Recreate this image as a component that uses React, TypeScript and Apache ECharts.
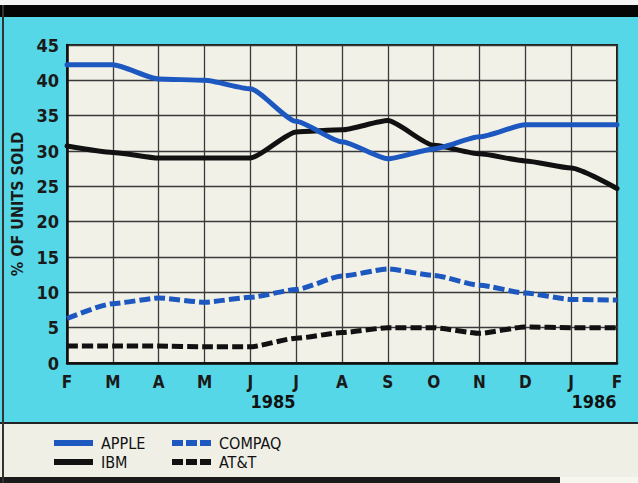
import React, { useEffect, useRef } from "react";
import * as echarts from "echarts";

const months = ["F", "M", "A", "M", "J", "J", "A", "S", "O", "N", "D", "J", "F"];
const apple = [42.2, 42.2, 40.2, 40, 38.8, 34.2, 31.3, 28.9, 30.3, 32, 33.7, 33.7, 33.7];
const ibm = [30.7, 29.8, 29, 29, 29, 32.7, 33, 34.3, 30.8, 29.6, 28.6, 27.6, 24.7];
const compaq = [6.3, 8.4, 9.2, 8.6, 9.3, 10.4, 12.3, 13.3, 12.4, 11, 9.9, 9, 8.9];
const att = [2.4, 2.4, 2.4, 2.3, 2.3, 3.5, 4.3, 5, 5, 4.2, 5.1, 5, 5];
const yearLabels = ["1985", "1986"];
const legendNames = ["APPLE", "IBM", "COMPAQ", "AT&T"];

const BLUE = "#1c58bf";
const BLACK = "#111111";
const FONT = "'Liberation Sans Narrow', 'DejaVu Sans Condensed', Arial, sans-serif";

export default function App() {
  const ref = useRef<HTMLDivElement>(null);
  useEffect(() => {
    document.body.style.margin = "0";
    const chart = echarts.init(ref.current!, null, { renderer: "svg" });
    const mk = (name: string, data: number[], color: string, dashed: boolean) => ({
      name,
      type: "line",
      data,
      smooth: 0.2,
      smoothMonotone: "x",
      symbol: "none",
      lineStyle: {
        color,
        width: 5,
        type: dashed ? [11, 4] : "solid",
        cap: dashed ? "butt" : "round",
        join: "round",
      },
    });
    const legendItems = [
      { name: legendNames[0], color: BLUE, dashed: false, x: 54, y: 443 },
      { name: legendNames[1], color: BLACK, dashed: false, x: 54, y: 462 },
      { name: legendNames[2], color: BLUE, dashed: true, x: 172, y: 443 },
      { name: legendNames[3], color: BLACK, dashed: true, x: 172, y: 462 },
    ];
    const legendGraphics: any[] = [];
    legendItems.forEach((it) => {
      legendGraphics.push({
        type: "line",
        shape: { x1: it.x, y1: it.y, x2: it.x + 39, y2: it.y },
        style: {
          stroke: it.color,
          lineWidth: 6,
          lineDash: it.dashed ? [11, 3] : null,
          lineCap: "butt",
        },
      });
      legendGraphics.push({
        type: "text",
        x: it.x + 47,
        y: it.y,
        style: {
          text: it.name,
          fill: "#111",
          font: `16px ${FONT}`,
          textVerticalAlign: "middle",
          verticalAlign: "middle",
        },
      });
    });
    chart.setOption({
      animation: false,
      backgroundColor: "#55d7e7",
      grid: {
        left: 67,
        right: 21,
        top: 45,
        bottom: 120,
        show: true,
        backgroundColor: "#f1f1e8",
        borderColor: "#1a1a1a",
        borderWidth: 2,
      },
      xAxis: {
        type: "category",
        data: months,
        boundaryGap: false,
        axisLine: { lineStyle: { color: "#111", width: 2.5 } },
        axisTick: { show: false },
        axisLabel: {
          color: "#1a1a1a",
          fontFamily: FONT,
          fontWeight: "bold",
          fontSize: 17,
          margin: 10,
          interval: 0,
        },
        splitLine: { show: true, lineStyle: { color: "#3a3a3a", width: 1.3 } },
      },
      yAxis: {
        type: "value",
        min: 0,
        max: 45,
        interval: 5,
        name: "% OF UNITS SOLD",
        nameLocation: "middle",
        nameGap: 31,
        nameTextStyle: {
          color: "#1a1a1a",
          fontFamily: FONT,
          fontWeight: "bold",
          fontSize: 16,
        },
        axisLine: { show: true, lineStyle: { color: "#111", width: 2.5 } },
        axisTick: { show: false },
        axisLabel: {
          color: "#1a1a1a",
          fontFamily: FONT,
          fontWeight: "bold",
          fontSize: 18,
          margin: 8,
        },
        splitLine: { show: true, lineStyle: { color: "#3a3a3a", width: 1.3 } },
      },
      series: [
        mk("COMPAQ", compaq, BLUE, true),
        mk("AT&T", att, BLACK, true),
        mk("IBM", ibm, BLACK, false),
        mk("APPLE", apple, BLUE, false),
      ],
      graphic: [
        { type: "rect", shape: { x: 0, y: 0, width: 638, height: 5 }, style: { fill: "#f4f4f4" } },
        { type: "rect", shape: { x: 0, y: 5, width: 638, height: 12 }, style: { fill: "#050505" } },
        { type: "rect", shape: { x: 0, y: 423, width: 638, height: 54 }, style: { fill: "#efefe6" } },
        { type: "line", shape: { x1: 0, y1: 423, x2: 638, y2: 423 }, style: { stroke: "#222", lineWidth: 2 } },
        { type: "rect", shape: { x: 0, y: 477, width: 560, height: 6 }, style: { fill: "#1a1a1a" } },
        { type: "rect", shape: { x: 560, y: 477, width: 78, height: 6 }, style: { fill: "#f6f6ee" } },
        { type: "line", shape: { x1: 3, y1: 5, x2: 3, y2: 483 }, style: { stroke: "#333", lineWidth: 2 } },
        {
          type: "text",
          x: 273,
          y: 401,
          style: {
            text: yearLabels[0],
            fill: "#111",
            font: `bold 18px ${FONT}`,
            textAlign: "center",
            textVerticalAlign: "middle",
            align: "center",
            verticalAlign: "middle",
          },
        },
        {
          type: "text",
          x: 594,
          y: 401,
          style: {
            text: yearLabels[1],
            fill: "#111",
            font: `bold 18px ${FONT}`,
            textAlign: "center",
            textVerticalAlign: "middle",
            align: "center",
            verticalAlign: "middle",
          },
        },
        ...legendGraphics,
      ],
    });
    return () => chart.dispose();
  }, []);
  return <div ref={ref} style={{ position: "fixed", left: 0, top: 0, width: 638, height: 483 }} />;
}
